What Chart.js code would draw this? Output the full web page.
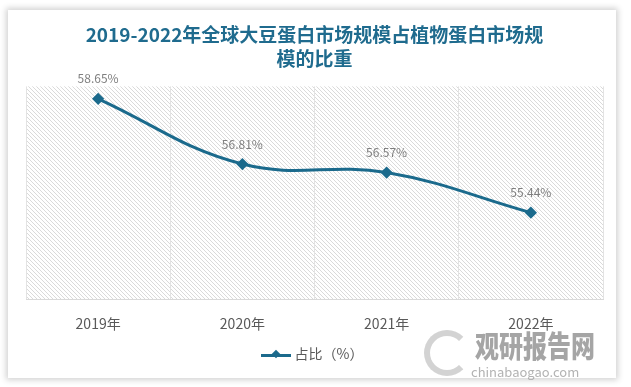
<!DOCTYPE html>
<html>
<head>
<meta charset="utf-8">
<script src="https://cdn.jsdelivr.net/npm/chart.js@4/dist/chart.umd.min.js"></script>
<style>
  html, body { margin: 0; padding: 0; background: #fff; }
  body { width: 631px; height: 387px; position: relative; overflow: hidden; font-family: "Noto Sans CJK SC", "Noto Sans", sans-serif; }
  #card { position: absolute; left: 8px; top: 10px; width: 608px; height: 368px; background: #fff; box-shadow: 0 0 6px 2px rgba(0,0,0,0.18); }
  #chart { position: absolute; left: 0; top: 0; }
  #legend { position: absolute; left: 0; width: 608px; top: 333px; text-align: center; font-size: 14px; color: #595959; }
  #legend .sw { display: inline-block; position: relative; width: 30px; height: 3px; background: #1b6a8c; vertical-align: middle; margin-right: 4px; }
  #legend .sw i { position: absolute; left: 12px; top: -2.5px; width: 6px; height: 6px; background: #1b6a8c; transform: rotate(45deg); }
  #mark { position: absolute; left: 475px; top: 329px; color: #9c9c9c; font-weight: 900; font-size: 24px; line-height: 1; transform: scaleY(1.25); transform-origin: top left; opacity: 0.9; }
  #mark2 { position: absolute; left: 471px; top: 365px; color: #aaaaaa; font-size: 13px; line-height: 1; opacity: 0.9; }
  #ring { position: absolute; left: 424px; top: 330px; width: 34px; height: 34px; border-radius: 50%; border: 6px solid #c8c8c8; border-right-color: transparent; opacity: 0.8; }
</style>
</head>
<body>
<div id="card">
  <canvas id="chart" width="608" height="368"></canvas>
  <div id="legend"></div>
</div>
<div id="ring"></div>
<div id="mark">观研报告网</div>
<div id="mark2">chinabaogao.com</div>
<script>
const years = ['2019年', '2020年', '2021年', '2022年']
const share = [58.65, 56.81, 56.57, 55.44]
const seriesName = '占比（%）'
const titleLines = ['2019-2022年全球大豆蛋白市场规模占植物蛋白市场规', '模的比重']

const lineColor = '#1b6a8c'

const makeHatch = (ctx) => {
    const p = document.createElement('canvas')
    p.width = 4
    p.height = 4
    const c = p.getContext('2d')
    c.fillStyle = '#ffffff'
    c.fillRect(0, 0, 4, 4)
    c.strokeStyle = '#dadada'
    c.lineWidth = 1
    c.beginPath()
    c.moveTo(0, 0)
    c.lineTo(4, 4)
    c.stroke()
    return ctx.createPattern(p, 'repeat')
}

const hatchBackground = {
    id: 'hatchBackground',
    beforeDraw: (chart) => {
        const { ctx, chartArea } = chart
        ctx.save()
        ctx.fillStyle = makeHatch(ctx)
        ctx.fillRect(chartArea.left, chartArea.top, chartArea.right - chartArea.left, chartArea.bottom - chartArea.top)
        ctx.restore()
    }
}

const valueLabels = {
    id: 'valueLabels',
    afterDatasetsDraw: (chart) => {
        const { ctx } = chart
        const meta = chart.getDatasetMeta(0)
        ctx.save()
        ctx.fillStyle = '#7f7f7f'
        ctx.font = '12px "Noto Sans CJK SC", sans-serif'
        ctx.textAlign = 'center'
        ctx.textBaseline = 'middle'
        meta.data.forEach((pt, i) => {
            ctx.fillText(share[i].toFixed(2) + '%', pt.x, pt.y - 20)
        })
        ctx.restore()
    }
}

const chart = new Chart(document.getElementById('chart'), {
    type: 'line',
    data: {
        labels: years,
        datasets: [{
            label: seriesName,
            data: share,
            borderColor: lineColor,
            backgroundColor: lineColor,
            borderWidth: 3,
            tension: 0.4,
            pointStyle: 'rectRot',
            pointRadius: 4,
            pointHoverRadius: 4,
            clip: false
        }]
    },
    options: {
        responsive: false,
        animation: false,
        layout: { padding: { left: 18, right: 13, top: 0, bottom: 30 } },
        plugins: {
            legend: { display: false },
            tooltip: { enabled: false },
            title: {
                display: true,
                text: titleLines,
                color: '#1f6b8e',
                font: { size: 19, weight: 'bold', family: '"Noto Sans CJK SC", sans-serif', lineHeight: 1.3 },
                padding: { top: 12, bottom: 15 }
            }
        },
        scales: {
            x: {
                offset: true,
                grid: { offset: true, color: '#e3e3e3', drawTicks: false },
                border: { color: '#d9d9d9' },
                ticks: { color: '#595959', padding: 16, font: { size: 14, family: '"Noto Sans CJK SC", sans-serif' } }
            },
            y: {
                display: false,
                min: 53,
                max: 59
            }
        }
    },
    plugins: [hatchBackground, valueLabels]
})

const legend = document.getElementById('legend')
legend.innerHTML = `<span class="sw"><i></i></span>${chart.data.datasets[0].label}`
</script>
</body>
</html>
